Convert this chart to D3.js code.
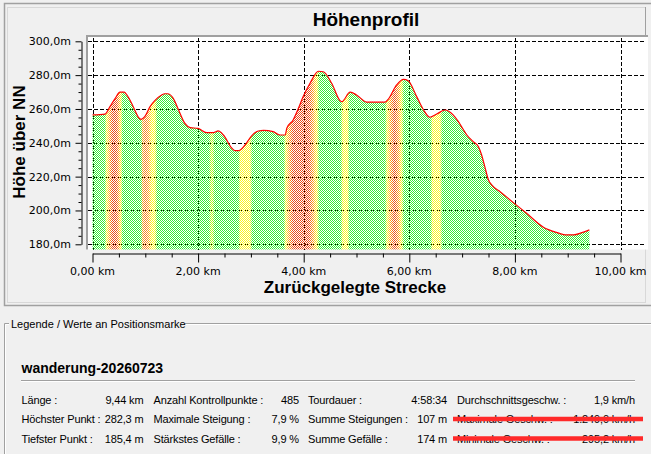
<!DOCTYPE html>
<html>
<head>
<meta charset="utf-8">
<script src="https://cdn.jsdelivr.net/npm/d3@7"></script>
<style>
  html, body { margin: 0; padding: 0; background: #f0f0f0; }
  svg { display: block; }
  .tick-label { font-family: "DejaVu Sans", sans-serif; font-size: 11px; fill: #000; }
  .legend { font-family: "Liberation Sans", Arial, sans-serif; font-size: 11px; letter-spacing: -0.15px; fill: #000; }
</style>
</head>
<body>
<svg id="chart" width="651" height="454"></svg>
<script>
// elevation profile
var distKm = [0, 0.24, 0.33, 0.43, 0.52, 0.60, 0.65, 0.74, 0.80, 0.87, 0.92, 0.99, 1.09, 1.18, 1.31, 1.37,
  1.42, 1.53, 1.63, 1.75, 1.85, 2.00, 2.16, 2.29, 2.38, 2.48, 2.64, 2.70, 2.77, 2.89, 3.01, 3.14, 3.24,
  3.42, 3.55, 3.65, 3.68, 3.80, 3.90, 3.99, 4.12, 4.28, 4.37, 4.53, 4.69, 4.72, 4.88, 5.00, 5.19, 5.54,
  5.60, 5.76, 5.89, 5.98, 6.14, 6.27, 6.39, 6.52, 6.68, 6.83, 6.93, 7.02, 7.09, 7.21, 7.31, 7.37, 7.43,
  7.50, 7.56, 7.72, 8.00, 8.22, 8.54, 8.80, 8.95, 9.11, 9.27, 9.41];
var elevM = [256.5, 257, 261.4, 266.3, 270, 270, 268.3, 263.4, 259.4, 255.1, 253.9, 255.5, 261.4, 264.9, 268.3, 269,
  269, 266.3, 259.4, 251.5, 249, 248.5, 246, 246, 247, 244.6, 236.8, 235.4, 235.4, 238.7, 244, 247, 247.4,
  246.6, 244.6, 244.6, 248.6, 253.5, 260.4, 267.3, 275.2, 282.3, 282, 275.2, 264.9, 264.3, 269.9, 268.3, 264.1, 264,
  265.7, 274.2, 277.5, 276.7, 267.3, 259.4, 255.1, 257, 259.4, 256.5, 252.5, 248, 244.6, 240.7, 237.7, 232.8, 225.9,
  218, 215.1, 211.1, 203.9, 198.4, 190.1, 186.9, 185.6, 185.6, 186.9, 188.5];

// slope colouring bands (km position -> colour class)
var bandKm = [0, 0.23, 0.27, 0.32, 0.38, 0.45, 0.50, 0.54, 0.57,
  0.92, 0.95, 1.00, 1.06, 1.12, 1.18, 1.23,
  2.20, 2.26, 2.32,
  2.76, 2.80, 2.98, 3.03,
  3.62, 3.66, 3.72, 3.80, 4.10, 4.18, 4.25, 4.30,
  4.70, 4.74, 4.83, 4.87,
  5.54, 5.58, 5.64, 5.72, 5.80, 5.85, 5.90,
  6.40, 6.44, 6.58, 6.63, 10];
var bandClass = ["G", "G", "Y", "O", "R", "R", "O", "Y", "G",
  "G", "O", "OR", "O", "Y", "Y", "G",
  "G", "LY", "G",
  "G", "Y", "Y", "G",
  "G", "Y", "O", "R", "R", "O", "Y", "G",
  "G", "Y", "Y", "G",
  "G", "Y", "O", "R", "O", "Y", "G",
  "G", "Y", "Y", "G", "G"];
var classColor = { G: "#34ee34", LY: "#d0f418", Y: "#fcf420", O: "#ffa020", OR: "#f57a28", R: "#ea4a1c" };

var yTicks = [180, 200, 220, 240, 260, 280, 300];
var xTicks = [0, 2, 4, 6, 8, 10];

var legendRows = [
  [["Länge :", "9,44 km"], ["Anzahl Kontrollpunkte :", "485"], ["Tourdauer :", "4:58:34"], ["Durchschnittsgeschw. :", "1,9 km/h"]],
  [["Höchster Punkt :", "282,3 m"], ["Maximale Steigung :", "7,9 %"], ["Summe Steigungen :", "107 m"], ["Maximale Geschw. :", "1.249,0 km/h"]],
  [["Tiefster Punkt :", "185,4 m"], ["Stärkstes Gefälle :", "9,9 %"], ["Summe Gefälle :", "174 m"], ["Minimale Geschw. :", "295,2 km/h"]]
];
var struckRows = [1, 2];

var svg = d3.select('#chart');
var fmt = d3.format(".2f");

var x = d3.scaleLinear().domain([0, 10]).range([92.5, 620.5]);
var y = d3.scaleLinear().domain([180, 300]).range([244.3, 41.3]);
var plot = { left: 86, top: 35, right: 648, bottom: 249.5 };

// frame
svg.append('rect').attr('x', 4.5).attr('y', 3.5).attr('width', 680).attr('height', 302)
  .attr('fill', 'none').attr('stroke', '#a0a0a0').attr('stroke-width', 1.5);
svg.append('rect').attr('x', 7.5).attr('y', 7.5).attr('width', 638).attr('height', 295)
  .attr('fill', 'none').attr('stroke', '#d8d8d8');
svg.append('line').attr('x1', 645.5).attr('x2', 645.5).attr('y1', 7).attr('y2', 35).attr('stroke', '#a0a0a0');

svg.append('text').attr('x', 366).attr('y', 26).attr('text-anchor', 'middle')
  .style('font-family', '"Liberation Sans", Arial, sans-serif').style('font-weight', 'bold').style('font-size', '19px')
  .text('Höhenprofil');

// plot background + sunken border
svg.append('rect').attr('x', plot.left).attr('y', plot.top)
  .attr('width', plot.right - plot.left).attr('height', plot.bottom - plot.top).attr('fill', '#fff');
svg.append('path').attr('d', 'M' + (plot.left + 1) + ',' + plot.bottom + 'V' + (plot.top + 1) + 'H' + plot.right)
  .attr('fill', 'none').attr('stroke', '#a0a0a0').attr('stroke-width', 2);

// dashed grid
var grid = svg.append('g').attr('stroke', '#000').attr('stroke-dasharray', '4,2').attr('shape-rendering', 'crispEdges');
grid.selectAll('line.h').data(yTicks).enter().append('line')
  .attr('x1', plot.left + 2).attr('x2', 645)
  .attr('y1', function(d){ return Math.round(y(d)) + 0.5; })
  .attr('y2', function(d){ return Math.round(y(d)) + 0.5; });
grid.selectAll('line.v').data(xTicks).enter().append('line')
  .attr('y1', plot.top + 3).attr('y2', plot.bottom)
  .attr('x1', function(d){ return Math.round(x(d)) + 0.5; })
  .attr('x2', function(d){ return Math.round(x(d)) + 0.5; });

// gradient + checker mask for the dithered fill
var defs = svg.append('defs');
var grad = defs.append('linearGradient').attr('id', 'slope').attr('gradientUnits', 'userSpaceOnUse')
  .attr('x1', x(0)).attr('x2', x(10)).attr('y1', 0).attr('y2', 0);
grad.selectAll('stop').data(bandKm).enter().append('stop')
  .attr('offset', function(d){ return d / 10; })
  .attr('stop-color', function(d, i){ return classColor[bandClass[i]]; });
var pat = defs.append('pattern').attr('id', 'checker').attr('width', 2).attr('height', 2)
  .attr('patternUnits', 'userSpaceOnUse');
pat.append('rect').attr('x', 0).attr('y', 0).attr('width', 1).attr('height', 1).attr('fill', '#fff');
pat.append('rect').attr('x', 1).attr('y', 1).attr('width', 1).attr('height', 1).attr('fill', '#fff');
defs.append('mask').attr('id', 'dither').attr('maskUnits', 'userSpaceOnUse')
  .attr('x', 0).attr('y', 0).attr('width', 651).attr('height', 454)
  .append('rect').attr('width', 651).attr('height', 454).attr('fill', 'url(#checker)');

var pts = distKm.map(function(d, i){ return [d, elevM[i]]; });
var area = d3.area().curve(d3.curveMonotoneX)
  .x(function(d){ return x(d[0]); }).y0(plot.bottom).y1(function(d){ return y(d[1]); });
var line = d3.line().curve(d3.curveMonotoneX)
  .x(function(d){ return x(d[0]); }).y(function(d){ return y(d[1]); });

svg.append('path').datum(pts).attr('d', area).attr('fill', 'url(#slope)').attr('mask', 'url(#dither)');
svg.append('path').datum(pts).attr('d', line).attr('fill', 'none').attr('stroke', '#ff0000').attr('stroke-width', 1.2);

// y axis
var yAxis = d3.axisLeft(y).tickValues(d3.range(180, 301, 5)).tickSize(0).tickFormat('');
var yg = svg.append('g').attr('transform', 'translate(81.5,0)').call(yAxis);
yg.select('.domain').attr('stroke', '#000');
yg.selectAll('.tick line').attr('stroke', '#000')
  .attr('x2', function(d){ return d % 20 === 0 ? -6 : -3; });
svg.selectAll('text.ylab').data(yTicks).enter().append('text').attr('class', 'tick-label ylab')
  .attr('x', 71).attr('y', function(d){ return y(d) + 4; }).attr('text-anchor', 'end')
  .text(function(d){ return d3.format(".1f")(d).replace('.', ',') + 'm'; });

// x axis
var xAxis = d3.axisBottom(x).tickValues(d3.range(0, 10.01, 0.5)).tickSize(0).tickFormat('');
var xg = svg.append('g').attr('transform', 'translate(0,253.5)').call(xAxis);
xg.select('.domain').attr('stroke', '#000');
xg.selectAll('.tick line').attr('stroke', '#000')
  .attr('y2', function(d){ return Math.abs(d % 2) < 1e-9 ? 9 : 4; });
svg.selectAll('text.xlab').data(xTicks).enter().append('text').attr('class', 'tick-label xlab')
  .attr('x', function(d){ return x(d); }).attr('y', 275).attr('text-anchor', 'middle')
  .text(function(d){ return fmt(d).replace('.', ',') + ' km'; });

// axis titles
svg.append('text').attr('transform', 'translate(25,142) rotate(-90)').attr('text-anchor', 'middle')
  .style('font-family', '"Liberation Sans", Arial, sans-serif').style('font-weight', 'bold').style('font-size', '17px')
  .text('Höhe über NN');
svg.append('text').attr('x', 355).attr('y', 293).attr('text-anchor', 'middle')
  .style('font-family', '"Liberation Sans", Arial, sans-serif').style('font-weight', 'bold').style('font-size', '17px')
  .text('Zurückgelegte Strecke');

// legend group box
svg.append('path').attr('d', 'M4.5,454V323.5H9M185,323.5H651').attr('fill', 'none').attr('stroke', '#a0a0a0');
svg.append('path').attr('d', 'M5.5,454V324.5H9M185,324.5H651').attr('fill', 'none').attr('stroke', '#fff');
svg.append('text').attr('class', 'legend').attr('x', 11).attr('y', 327.5).style('letter-spacing', '0px')
  .text('Legende / Werte an Positionsmarke');

svg.append('text').attr('x', 21.5).attr('y', 373)
  .style('font-family', '"Liberation Sans", Arial, sans-serif').style('font-weight', 'bold').style('font-size', '14px')
  .text('wanderung-20260723');
svg.append('line').attr('x1', 21).attr('x2', 635).attr('y1', 380.5).attr('y2', 380.5).attr('stroke', '#a0a0a0');
svg.append('line').attr('x1', 21).attr('x2', 635).attr('y1', 381.5).attr('y2', 381.5).attr('stroke', '#fff');

var labelX = [21.5, 153.5, 308, 457];
var valueX = [143.5, 299, 447, 635];
var rowY = d3.scaleLinear().domain([0, 2]).range([403.5, 442.5]);
legendRows.forEach(function(row, r){
  row.forEach(function(cell, c){
    svg.append('text').attr('class', 'legend').attr('x', labelX[c]).attr('y', rowY(r)).text(cell[0]);
    svg.append('text').attr('class', 'legend').attr('x', valueX[c]).attr('y', rowY(r))
      .attr('text-anchor', 'end').text(cell[1]);
  });
});
svg.selectAll('line.strike').data(struckRows).enter().append('line')
  .attr('x1', 453).attr('x2', 643)
  .attr('y1', function(d){ return rowY(d) - 4; }).attr('y2', function(d){ return rowY(d) - 4; })
  .attr('stroke', '#ff2a2a').attr('stroke-width', 4.5);
</script>
</body>
</html>
